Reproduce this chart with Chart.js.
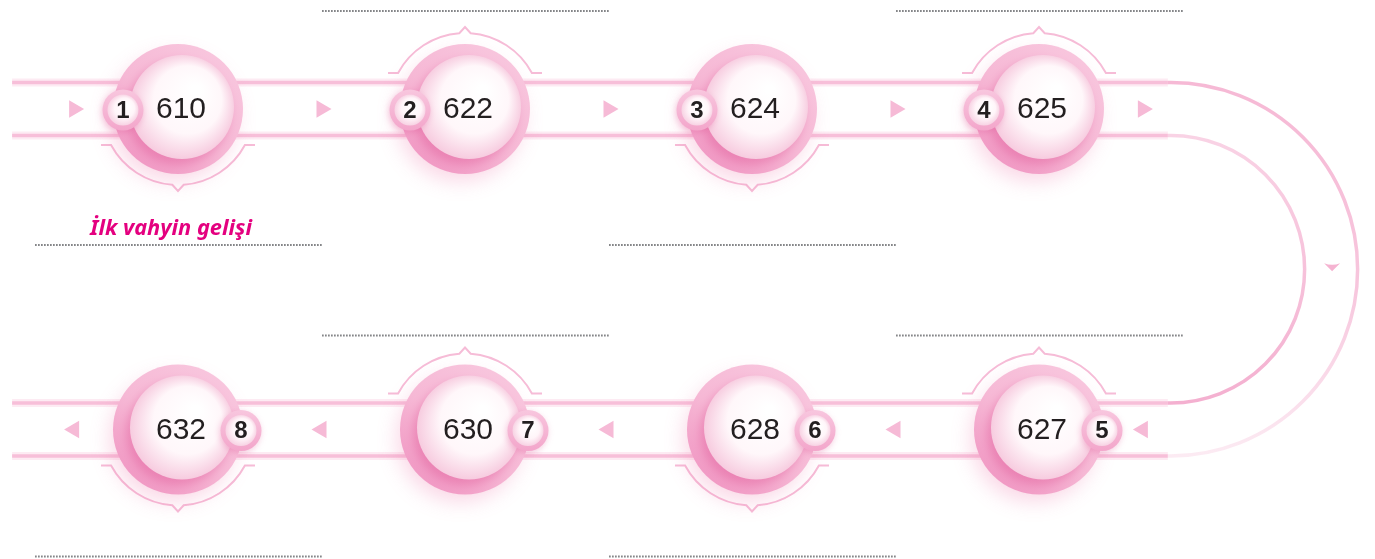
<!DOCTYPE html>
<html>
<head>
<meta charset="utf-8">
<script src="https://cdn.jsdelivr.net/npm/chart.js@4/dist/chart.umd.min.js"></script>
<style>
html, body { margin: 0; padding: 0; background: #fff; }
#wrap { width: 1375px; height: 559px; position: relative; }
</style>
</head>
<body>
<div id="wrap"><canvas id="chart"></canvas></div>
<script>
// timeline data
var steps = [1, 2, 3, 4, 5, 6, 7, 8];
var years = [610, 622, 624, 625, 627, 628, 630, 632];
var notes = ["İlk vahyin gelişi", "", "", "", "", "", "", ""];
var arrowCols = [-0.362, 0.5, 1.5, 2.5, 3.362];

// steps 1-4 run left to right on row 0, steps 5-8 come back on row 1
function colOf(i) { return i < 4 ? i : 7 - i; }
function rowOf(i) { return i < 4 ? 0 : 1; }

var BAND = 26.5;
var bandStart = -0.578, bandEnd = 3.449;

function dotted(ctx, x1, x2, y) {
  ctx.save();
  ctx.strokeStyle = "#7d7e81";
  ctx.lineWidth = 2;
  ctx.setLineDash([1.6, 1.4]);
  ctx.beginPath();
  ctx.moveTo(x1, y);
  ctx.lineTo(x2, y);
  ctx.stroke();
  ctx.restore();
}

function decoArc(ctx, cx, cy, dir) {
  var r = 76, a0 = Math.asin(36 / 76), g = 0.075;
  ctx.save();
  ctx.strokeStyle = "#f6bcd7";
  ctx.lineWidth = 2;
  ctx.beginPath();
  ctx.moveTo(cx - 77, cy + dir * 36);
  if (dir > 0) {
    ctx.arc(cx, cy, r, Math.PI - a0, Math.PI / 2 + g, true);
    ctx.lineTo(cx, cy + r + 6);
    ctx.arc(cx, cy, r, Math.PI / 2 - g, a0, true);
  } else {
    ctx.arc(cx, cy, r, Math.PI + a0, 1.5 * Math.PI - g, false);
    ctx.lineTo(cx, cy - r - 6);
    ctx.arc(cx, cy, r, 1.5 * Math.PI + g, 2 * Math.PI - a0, false);
  }
  ctx.lineTo(cx + 77, cy + dir * 36);
  ctx.stroke();
  ctx.restore();
}

var timelinePlugin = {
  id: "timeline",
  beforeDatasetsDraw: function (chart) {
    var ctx = chart.ctx, xs = chart.scales.x, ys = chart.scales.y;
    var yT = ys.getPixelForValue(0), yB = ys.getPixelForValue(1);
    var x0 = xs.getPixelForValue(bandStart), x1 = xs.getPixelForValue(bandEnd);

    // band lines
    [yT, yB].forEach(function (y) {
      [y - BAND, y + BAND].forEach(function (ly) {
        ctx.save();
        ctx.strokeStyle = "rgba(247,190,216,0.3)";
        ctx.lineWidth = 8;
        ctx.beginPath(); ctx.moveTo(x0, ly); ctx.lineTo(x1, ly); ctx.stroke();
        ctx.strokeStyle = "#f7bfd9";
        ctx.lineWidth = 3.5;
        ctx.beginPath(); ctx.moveTo(x0, ly); ctx.lineTo(x1, ly); ctx.stroke();
        ctx.restore();
      });
    });

    // right turn
    var cx = x1 + 3, cy = (yT + yB) / 2;
    var rOut = (yB + BAND - (yT - BAND)) / 2, rIn = (yB - BAND - (yT + BAND)) / 2;
    var gOut = ctx.createLinearGradient(0, yT - BAND, 0, yB + BAND);
    gOut.addColorStop(0, "#f6b9d5"); gOut.addColorStop(0.55, "#f7c6dd"); gOut.addColorStop(1, "#fcebf3");
    var gIn = ctx.createLinearGradient(0, yT + BAND, 0, yB - BAND);
    gIn.addColorStop(0, "#f9d3e5"); gIn.addColorStop(1, "#f4b0d0");
    ctx.save();
    ctx.lineWidth = 3.5;
    ctx.strokeStyle = gOut;
    ctx.beginPath(); ctx.moveTo(x1, yT - BAND); ctx.lineTo(cx, yT - BAND);
    ctx.arc(cx, cy, rOut, -Math.PI / 2, Math.PI / 2, false);
    ctx.lineTo(x1, yB + BAND); ctx.stroke();
    ctx.strokeStyle = gIn;
    ctx.beginPath(); ctx.moveTo(x1, yT + BAND); ctx.lineTo(cx, yT + BAND);
    ctx.arc(cx, cy, rIn, -Math.PI / 2, Math.PI / 2, false);
    ctx.lineTo(x1, yB - BAND); ctx.stroke();
    // down chevron
    var ax = cx + (rOut + rIn) / 2 + 1, ay = cy - 1;
    ctx.fillStyle = "#f5b3d1";
    ctx.beginPath();
    ctx.moveTo(ax - 8, ay - 5);
    ctx.quadraticCurveTo(ax, ay - 2, ax + 8, ay - 5);
    ctx.lineTo(ax, ay + 3);
    ctx.closePath(); ctx.fill();
    ctx.restore();

    // dotted note lines, notes and decorative arcs
    var meta = chart.getDatasetMeta(0);
    meta.data.forEach(function (pt, i) {
      var col = colOf(i), row = rowOf(i);
      var above = col % 2 === 1;
      var lx1 = xs.getPixelForValue(col - 0.498), lx2 = xs.getPixelForValue(col + 0.502);
      var off = row === 0 ? (above ? -98 : 136) : (above ? -94 : 127);
      var ly = pt.y + off;
      dotted(ctx, lx1, lx2, ly);
      if (notes[i]) {
        ctx.save();
        ctx.font = "italic bold 22px 'Noto Sans'";
        var w = ctx.measureText(notes[i]).width;
        var size = 22 * 162 / w;
        ctx.font = "italic bold " + size.toFixed(1) + "px 'Noto Sans'";
        ctx.fillStyle = "#e4007f";
        ctx.textAlign = "center";
        ctx.textBaseline = "alphabetic";
        ctx.fillText(notes[i], pt.x - 7, ly - 10);
        ctx.restore();
      }
      decoArc(ctx, pt.x, pt.y, above ? -1 : 1);

      // soft glow under ring
      ctx.save();
      ctx.shadowColor = "rgba(236,110,166,0.28)";
      ctx.shadowBlur = 20;
      ctx.shadowOffsetX = -5;
      ctx.shadowOffsetY = 9;
      ctx.fillStyle = "#f5b0d0";
      ctx.beginPath(); ctx.arc(pt.x, pt.y, 63, 0, 2 * Math.PI); ctx.fill();
      ctx.restore();
    });
  },
  afterDatasetsDraw: function (chart) {
    var ctx = chart.ctx;
    var meta = chart.getDatasetMeta(0);
    meta.data.forEach(function (pt, i) {
      var row = rowOf(i);
      var dx = pt.x + 4, dy = pt.y - 2;
      // inner disk
      ctx.save();
      ctx.shadowColor = "rgba(222,80,146,0.4)";
      ctx.shadowBlur = 10;
      ctx.shadowOffsetX = -4;
      ctx.shadowOffsetY = 6;
      var g = ctx.createRadialGradient(dx + 14, dy - 18, 4, dx, dy, 54);
      g.addColorStop(0, "#ffffff");
      g.addColorStop(0.6, "#fff7fa");
      g.addColorStop(1, "#f6c8dd");
      ctx.fillStyle = g;
      ctx.beginPath(); ctx.arc(dx, dy, 52, 0, 2 * Math.PI); ctx.fill();
      ctx.restore();

      // year
      ctx.save();
      ctx.font = "30px 'Liberation Sans'";
      ctx.fillStyle = "#231f20";
      ctx.textAlign = "center";
      ctx.textBaseline = "middle";
      ctx.fillText(String(years[i]), pt.x + 3, pt.y + 1);
      ctx.restore();

      // step badge
      var bx = pt.x + 3 + (row === 0 ? -58 : 60), by = pt.y + 1;
      ctx.save();
      ctx.shadowColor = "rgba(222,80,146,0.3)";
      ctx.shadowBlur = 6;
      ctx.shadowOffsetX = -1;
      ctx.shadowOffsetY = 2;
      var gb = ctx.createLinearGradient(bx, by - 20, bx, by + 20);
      gb.addColorStop(0, "#f8c6de"); gb.addColorStop(1, "#f3a6cb");
      ctx.fillStyle = gb;
      ctx.beginPath(); ctx.arc(bx, by, 20.5, 0, 2 * Math.PI); ctx.fill();
      ctx.restore();
      ctx.save();
      var gi = ctx.createRadialGradient(bx + 4, by - 5, 1, bx, by, 16);
      gi.addColorStop(0, "#ffffff"); gi.addColorStop(0.6, "#fff5f9"); gi.addColorStop(1, "#f7d0e2");
      ctx.fillStyle = gi;
      ctx.beginPath(); ctx.arc(bx, by, 15.5, 0, 2 * Math.PI); ctx.fill();
      ctx.font = "bold 24px 'Liberation Sans'";
      ctx.fillStyle = "#231f20";
      ctx.textAlign = "center";
      ctx.textBaseline = "middle";
      ctx.fillText(String(steps[i]), bx, by + 1);
      ctx.restore();
    });
  }
};

var chart = new Chart(document.getElementById("chart"), {
  type: "scatter",
  data: {
    datasets: [
      {
        label: "Yıllar",
        data: steps.map(function (s, i) { return { x: colOf(i), y: rowOf(i) }; }),
        pointRadius: 65,
        pointHoverRadius: 65,
        borderWidth: 0,
        backgroundColor: function (c) {
          var ch = c.chart;
          if (!ch.chartArea || !c.raw) return "#f6bad6";
          var x = ch.scales.x.getPixelForValue(c.raw.x), y = ch.scales.y.getPixelForValue(c.raw.y);
          var g = ch.ctx.createLinearGradient(x + 40, y - 50, x - 40, y + 50);
          g.addColorStop(0, "#f8c5dd");
          g.addColorStop(0.55, "#f6b8d5");
          g.addColorStop(1, "#f19bc5");
          return g;
        }
      },
      {
        label: "ileri",
        data: arrowCols.map(function (c) { return { x: c, y: 0 }; }),
        pointStyle: "triangle",
        rotation: 90,
        pointRadius: 10,
        borderWidth: 0,
        backgroundColor: "#f6bad6"
      },
      {
        label: "geri",
        data: arrowCols.map(function (c) { return { x: c, y: 1 }; }),
        pointStyle: "triangle",
        rotation: -90,
        pointRadius: 10,
        borderWidth: 0,
        backgroundColor: "#f6bad6"
      }
    ]
  },
  options: {
    responsive: true,
    maintainAspectRatio: false,
    animation: false,
    layout: { padding: 0, autoPadding: false },
    plugins: { legend: { display: false }, tooltip: { enabled: false } },
    events: [],
    scales: {
      x: { type: "linear", display: false, min: -0.6202, max: 4.1707 },
      y: { type: "linear", display: false, reverse: true, min: -0.3401, max: 1.4040 }
    }
  },
  plugins: [timelinePlugin]
});
</script>
</body>
</html>
